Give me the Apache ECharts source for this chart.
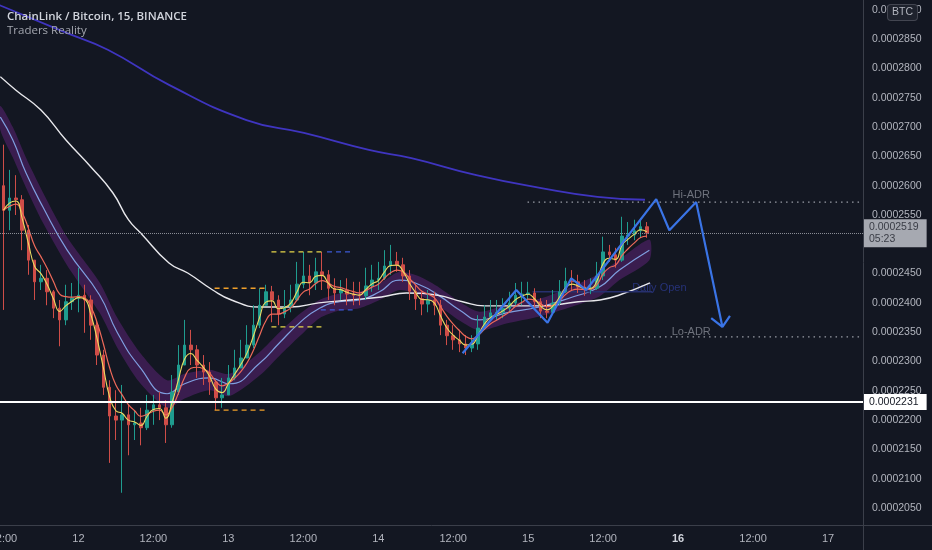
<!DOCTYPE html>
<html><head><meta charset="utf-8">
<script src="https://cdn.jsdelivr.net/npm/echarts@6/dist/echarts.min.js"></script>
<style>html,body{margin:0;padding:0;background:#131722;}#c{width:932px;height:550px;}</style>
</head><body><div id="c"></div>
<script>
// Prices are in units of 1e-7 BTC; times are hours since 11 Dec 12:00 (hourly candles).
const firstOpen = 2600;
const closes = [2558,2579,2576,2524,2473,2436,2442,2419,2391,2371,
  2402,2408,2413,2405,2362,2311,2256,2207,2200,2209,
  2192,2195,2187,2217,2226,2221,2192,2248,2294,2328,
  2320,2294,2282,2265,2238,2243,2272,2289,2306,2328,
  2362,2396,2419,2405,2381,2393,2405,2432,2446,2434,
  2453,2448,2425,2417,2422,2415,2413,2412,2429,2439,
  2442,2463,2471,2465,2446,2420,2407,2398,2405,2396,
  2362,2344,2337,2330,2323,2330,2357,2376,2383,2384,
  2391,2400,2413,2415,2417,2402,2386,2384,2400,2419,
  2437,2436,2427,2422,2425,2446,2487,2482,2473,2514,
  2516,2523,2530,2519];
const highs = [2670,2627,2618,2584,2533,2473,2465,2456,2422,2405,
  2431,2434,2460,2431,2413,2371,2320,2268,2251,2260,
  2226,2217,2221,2243,2243,2248,2234,2277,2328,2371,
  2354,2328,2311,2299,2268,2272,2294,2320,2337,2362,
  2396,2425,2431,2429,2413,2422,2431,2470,2487,2465,
  2477,2487,2456,2442,2439,2442,2436,2436,2460,2465,
  2470,2490,2499,2487,2477,2456,2431,2419,2422,2419,
  2405,2371,2362,2354,2345,2345,2379,2396,2405,2405,
  2408,2419,2434,2436,2436,2425,2408,2405,2422,2439,
  2460,2456,2448,2439,2442,2470,2513,2499,2494,2547,
  2538,2542,2545,2538];
const lows = [2388,2524,2550,2490,2448,2405,2422,2396,2374,2326,
  2362,2388,2384,2349,2337,2294,2243,2127,2166,2076,
  2140,2166,2157,2183,2192,2200,2161,2187,2243,2294,
  2294,2272,2260,2243,2217,2221,2243,2268,2289,2306,
  2323,2357,2396,2367,2362,2374,2384,2405,2425,2413,
  2422,2422,2405,2396,2405,2396,2396,2396,2405,2419,
  2422,2439,2448,2453,2436,2405,2388,2379,2384,2379,
  2345,2328,2320,2316,2311,2316,2320,2354,2371,2371,
  2374,2384,2396,2396,2405,2388,2374,2374,2384,2396,
  2417,2422,2417,2412,2415,2422,2439,2470,2460,2470,
  2499,2507,2511,2511];

const whiteMaHours = [-0.5,2,6,10,14,17.5,20,22,26.5,29.5,33.5,36.5,41,46,50.5,55.5,60.5,64.5,69.5,73.5,77,86,92,95.5,98.5,103.5];
const whiteMaValues = [2786,2763,2729,2678,2632,2588,2542,2519,2468,2451,2422,2405,2393,2393,2400,2405,2410,2417,2413,2402,2395,2395,2402,2405,2413,2434];

const indigoMaHours = [-0.6,9.8,16.7,26.5,38.9,48.1,58.5,65.3,75.7,86.1,95.1,102.7];
const indigoMaValues = [2908,2862,2832,2772,2712,2690,2661,2647,2618,2596,2581,2576];

const lilacHours = [-0.5,1.5,3.6,6.3,10.2,15.4,18.2,21.8,26.2,29.0,33.0,36.2,41.0,44.2,47.4,50.6,53.8,57.0,60.2,63.4,66.6,69.8,73.0,76.2,80.5,85.8,91.1,95.4,98.6,103.4];
const lilacValues = [2717,2678,2622,2564,2490,2413,2350,2291,2245,2262,2272,2262,2297,2332,2366,2391,2402,2405,2419,2439,2431,2412,2388,2371,2383,2393,2410,2427,2456,2490];
const bandUpper = [2736,2700,2648,2589,2512,2435,2375,2316,2268,2279,2286,2279,2316,2350,2381,2405,2416,2419,2433,2453,2445,2426,2402,2385,2397,2407,2428,2450,2474,2508];
const bandLower = [2695,2648,2597,2537,2464,2383,2324,2264,2221,2237,2251,2241,2276,2310,2343,2374,2387,2391,2405,2422,2413,2394,2370,2353,2365,2377,2394,2411,2439,2473];

const projectionHours = [73.5,82.1,87.1,90.9,93.3,104.5,106.6,110.9,115.1];
const projectionValues = [2314,2422,2366,2442,2422,2577,2524,2572,2359];
const arrowHeadHours = [113.3,115.1,116.3];
const arrowHeadValues = [2374,2359,2378];

const rangeStartHours = [33.8,42.9,51.8,42.9,50.8,33.8];
const rangeEndHours   = [41.8,51.4,55.9,51.4,55.9,41.8];
const rangeLevels     = [2425,2487,2487,2359,2388,2217];
const rangeColors     = ['#f0a02a','#e8d84a','#3d5bd8','#e8d84a','#3d5bd8','#f0a02a'];

const hiAdr = 2572, loAdr = 2342, adrStartHour = 83.9;
const dailyOpen = 2419, dailyOpenStartHour = 84.7, dailyOpenEndHour = 103.9;
const currentPrice = 2519, currentCountdown = '05:23';
const keyLevel = 2231;

const adrNoteTexts = ['Hi-ADR','Lo-ADR'];
const adrNoteHours = [110.1,110.1];
const adrNoteValues = [2584,2351];
const dailyOpenNote = {text:'Daily Open', hour:105.0, value:2425};

const dayLabels = ['12','13','14','15','16','17'];
const middayLabel = '12:00';
const highlightedDay = '16';

const hourMin = -0.552, hourMax = 137.6;
const X = h => h / 12; // axis unit: half-days

function ema(src, alpha){ const out=[]; let e=src[0]; src.forEach((v,i)=>{ e = i===0 ? v : alpha*v+(1-alpha)*e; out.push(e); }); return out; }

const candleData = closes.map((c,i)=>[X(i), i===0?firstOpen:closes[i-1], c, lows[i], highs[i]]);
const emaFast = ema(closes, 0.6), emaSlow = ema(closes, 0.33);
const pair = (hs, vs) => hs.map((h,i)=>[X(h), vs[i]]);

const chart = echarts.init(document.getElementById('c'));
const series = [];

series.push({
  type:'custom', silent:true, z:1, clip:true,
  data:[[X(lilacHours[0]), bandUpper[0]]],
  renderItem:(params, api)=>{
    const pts=[];
    lilacHours.forEach((h,i)=>pts.push(api.coord([X(h), bandUpper[i]])));
    for(let i=lilacHours.length-1;i>=0;i--) pts.push(api.coord([X(lilacHours[i]), bandLower[i]]));
    return {type:'polygon', shape:{points:pts, smooth:0.25}, style:{fill:'rgba(118,40,148,0.4)'}};
  }
});
series.push({type:'line', data:pair(lilacHours,lilacValues), smooth:true, showSymbol:false, lineStyle:{color:'#7f9fe0', width:1.2}, z:2});
series.push({type:'line', data:pair(whiteMaHours,whiteMaValues), smooth:true, showSymbol:false, lineStyle:{color:'#e8e8ec', width:1.4}, z:2});
series.push({type:'line', data:pair(indigoMaHours,indigoMaValues), smooth:true, showSymbol:false, lineStyle:{color:'#3f35c0', width:1.8}, z:2});
series.push({
  type:'candlestick', data:candleData, encode:{x:0, y:[1,2,3,4]}, barWidth:3, z:3,
  itemStyle:{color:'#1f9c8f', color0:'#cf4d48', borderColor:'#1f9c8f', borderColor0:'#cf4d48', borderWidth:1},
  markLine:{
    symbol:'none', silent:true, animation:false,
    data:[
      {yAxis:currentPrice, lineStyle:{color:'#8a8d96', type:'dotted', width:1},
       label:{show:true, position:'end', distance:1, formatter:(currentPrice/1e7).toFixed(7)+'\n'+currentCountdown,
              backgroundColor:'#a6a9b1', color:'#3a3d46', padding:[2,8,2,5], fontSize:10.5, lineHeight:12, fontFamily:'Liberation Sans'}},
      {yAxis:keyLevel, lineStyle:{color:'#ffffff', type:'solid', width:1.8},
       label:{show:true, position:'end', distance:1, formatter:(keyLevel/1e7).toFixed(7),
              backgroundColor:'#ffffff', color:'#131722', padding:[3,8,2,5], fontSize:10.5, fontFamily:'Liberation Sans'}}
    ]
  }
});
series.push({type:'line', data:closes.map((c,i)=>[X(i), emaSlow[i]]), smooth:true, showSymbol:false, lineStyle:{color:'#ef6a5a', width:1.2}, z:4});
series.push({type:'line', data:closes.map((c,i)=>[X(i), emaFast[i]]), smooth:true, showSymbol:false, lineStyle:{color:'#ecdc62', width:1.1}, z:4});

rangeLevels.forEach((lv,i)=>{
  series.push({type:'line', data:[[X(rangeStartHours[i]),lv],[X(rangeEndHours[i]),lv]], showSymbol:false, silent:true,
    lineStyle:{color:rangeColors[i], width:1.3, type:[5,4]}, z:5});
});
[hiAdr, loAdr].forEach(lv=>{
  series.push({type:'line', data:[[X(adrStartHour),lv],[X(hourMax),lv]], showSymbol:false, silent:true,
    lineStyle:{color:'#9a9da6', width:1.3, type:[1.5,4]}, z:5});
});
series.push({type:'line', data:[[X(dailyOpenStartHour),dailyOpen],[X(dailyOpenEndHour),dailyOpen]], showSymbol:false, silent:true,
  lineStyle:{color:'#27306e', width:1.5}, z:2});
series.push({type:'line', data:pair(projectionHours,projectionValues), showSymbol:false, silent:true,
  lineStyle:{color:'#3a74e6', width:2.2}, z:6});
series.push({type:'line', data:pair(arrowHeadHours,arrowHeadValues), showSymbol:false, silent:true,
  lineStyle:{color:'#3a74e6', width:2.2}, z:6});
series.push({type:'scatter', symbolSize:2, silent:true, z:7,
  data:adrNoteTexts.map((t,i)=>({value:[X(adrNoteHours[i]), adrNoteValues[i]], name:t})),
  label:{show:true, position:'inside', formatter:p=>p.name, fontSize:11, fontFamily:'Liberation Sans', color:'#868993'},
  itemStyle:{color:'rgba(0,0,0,0)'}
});
series.push({type:'scatter', symbolSize:2, silent:true, z:1,
  data:[{value:[X(dailyOpenNote.hour), dailyOpenNote.value], name:dailyOpenNote.text}],
  label:{show:true, position:'inside', formatter:p=>p.name, fontSize:11, fontFamily:'Liberation Sans', color:'#2c3a8e'},
  itemStyle:{color:'rgba(0,0,0,0)'}
});

const option = {
  backgroundColor:'#131722',
  animation:false,
  title:{
    text:'ChainLink / Bitcoin, 15, BINANCE', subtext:'Traders Reality', left:7, top:10, itemGap:0, padding:0,
    textStyle:{color:'#d1d4dc', fontSize:11.5, fontWeight:600, fontFamily:'Open Sans', lineHeight:14},
    subtextStyle:{color:'#a3a6af', fontSize:11.5, fontFamily:'Open Sans', lineHeight:14}
  },
  grid:{left:0, right:69, top:0, bottom:25, containLabel:false, outerBoundsMode:'none'},
  xAxis:{
    type:'value', min:X(hourMin), max:X(hourMax), splitNumber:11,
    splitLine:{show:false}, axisTick:{show:false},
    axisLine:{show:true, onZero:false, lineStyle:{color:'#3b3f4a', width:1}},
    axisLabel:{color:'#b2b5be', fontSize:11, fontFamily:'Liberation Sans', margin:8,
      rich:{b:{fontWeight:'bold', color:'#d1d4dc', fontSize:11, fontFamily:'Liberation Sans'}},
      formatter:v=>{
        const r=Math.round(v); if(Math.abs(v-r)>1e-6) return '';
        if(r%2===0) return middayLabel;
        const d=dayLabels[(r-1)/2]; if(d===undefined) return '';
        return d===highlightedDay ? '{b|'+d+'}' : d;
      }}
  },
  yAxis:{
    type:'value', position:'right', min:2021, max:2916.9, splitNumber:18, scale:true,
    splitLine:{show:false}, axisTick:{show:false},
    axisLine:{show:true, onZero:false, lineStyle:{color:'#3b3f4a', width:1}},
    axisLabel:{color:'#b2b5be', fontSize:10.5, fontFamily:'Liberation Sans', margin:9,
      formatter:v=>{ const q=v/50; return Math.abs(q-Math.round(q))<1e-6 ? (v/1e7).toFixed(7) : ''; }}
  },
  graphic:[
    {type:'line', shape:{x1:863.5,y1:525,x2:863.5,y2:550}, style:{stroke:'#3b3f4a', lineWidth:1}, silent:true},
    {type:'line', shape:{x1:863,y1:525.5,x2:932,y2:525.5}, style:{stroke:'#3b3f4a', lineWidth:1}, silent:true},
    {type:'text', left:887, top:4, z:100, silent:true,
      style:{text:'BTC', fill:'#b2b5be', font:'10.5px "Liberation Sans"', backgroundColor:'#1e222d',
        borderColor:'#434651', borderWidth:1, borderRadius:3, padding:[2,4,2,4]}}
  ],
  series
};
chart.setOption(option);
</script></body></html>
